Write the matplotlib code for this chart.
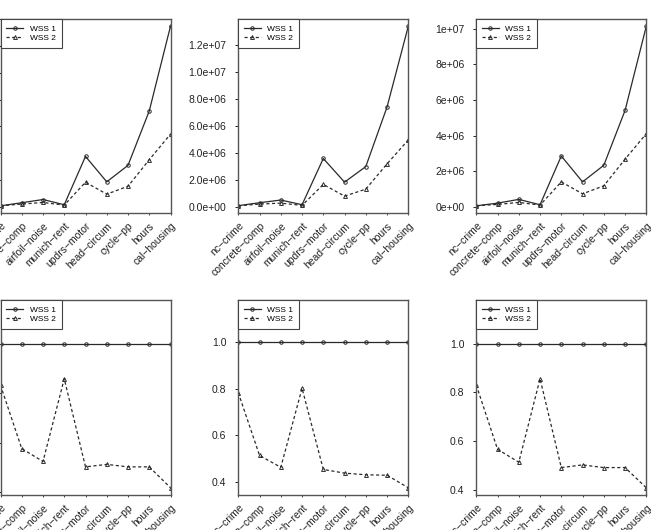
import numpy as np
import matplotlib
matplotlib.use('Agg')
import matplotlib.pyplot as plt
from matplotlib.ticker import FormatStrFormatter

plt.rcParams['font.family'] = ['Liberation Sans', 'DejaVu Sans']

# datasets on the x axis
datasets = ['nc−crime', 'concrete−comp', 'airfoil−noise', 'munich−rent', 'updrs−motor',
            'head−circum', 'cycle−pp', 'hours', 'cal−housing']

# top row: raw WSS values
top1_wss1 = [0.07e6, 0.30e6, 0.54e6, 0.15e6, 3.76e6, 1.86e6, 3.09e6, 7.15e6, 13.48e6]
top1_wss2 = [0.07e6, 0.20e6, 0.32e6, 0.12e6, 1.83e6, 0.94e6, 1.53e6, 3.51e6, 5.42e6]
top2_wss1 = [0.08e6, 0.30e6, 0.50e6, 0.15e6, 3.59e6, 1.83e6, 2.99e6, 7.42e6, 13.43e6]
top2_wss2 = [0.07e6, 0.20e6, 0.27e6, 0.10e6, 1.66e6, 0.79e6, 1.31e6, 3.19e6, 4.97e6]
top3_wss1 = [0.07e6, 0.22e6, 0.43e6, 0.13e6, 2.86e6, 1.41e6, 2.34e6, 5.41e6, 10.13e6]
top3_wss2 = [0.07e6, 0.15e6, 0.26e6, 0.11e6, 1.41e6, 0.74e6, 1.19e6, 2.68e6, 4.11e6]

# bottom row: normalised WSS
bot_wss1 = [1.0] * 9
bot1_wss2 = [0.833, 0.575, 0.523, 0.859, 0.501, 0.511, 0.501, 0.501, 0.416]
bot2_wss2 = [0.782, 0.512, 0.461, 0.801, 0.452, 0.436, 0.429, 0.427, 0.373]
bot3_wss2 = [0.830, 0.566, 0.513, 0.856, 0.491, 0.502, 0.491, 0.491, 0.408]

W, H = 651, 530
fig = plt.figure(figsize=(W / 100, H / 100), dpi=100)

lefts = [0.5, 238.3, 476.3]
aw = 170
line_col = '#2a2a2a'


def panel(left_px, top_px, h_px, s1, s2, fmt, norm):
    ax = fig.add_axes([left_px / W, 1 - (top_px + h_px) / H, aw / W, h_px / H])
    x = np.arange(1, len(datasets) + 1)
    ax.plot(x, s1, '-', color=line_col, lw=0.9, marker='o', ms=2.5,
            mfc='none', mew=0.7, label='WSS 1')
    ax.plot(x, s2, '--', color=line_col, lw=0.9, marker='^', ms=2.8,
            mfc='none', mew=0.7, dashes=(2.5, 2), label='WSS 2')
    ax.set_xlim(1, len(datasets))
    if norm:
        lo = min(s2)
        r = 1.15 - lo
        ax.set_ylim(lo - 0.04 * r, 1.15 + 0.04 * r)
        ax.set_yticks([0.4, 0.6, 0.8, 1.0])
    else:
        lo, hi = min(min(s1), min(s2)), max(max(s1), max(s2))
        r = hi - lo
        ax.set_ylim(lo - 0.04 * r, hi + 0.04 * r)
    ax.yaxis.set_major_formatter(FormatStrFormatter(fmt))
    ax.set_xticks(x)
    ax.set_xticklabels(datasets, rotation=45, ha='right', rotation_mode='anchor')
    ax.tick_params(axis='x', length=1.5, width=0.6, pad=4, labelsize=7.5,
                   colors='#222222')
    ax.tick_params(axis='y', length=2.5, width=0.7, pad=6, labelsize=7.5,
                   colors='#222222')
    for sp in ax.spines.values():
        sp.set_color('#555555')
        sp.set_linewidth(1.0)
    leg = ax.legend(loc='upper left', bbox_to_anchor=(0, 1), borderaxespad=0,
                    fancybox=False, framealpha=1, edgecolor='#444444',
                    fontsize=6.0, handlelength=2.0, handletextpad=0.8,
                    borderpad=0.7, labelspacing=0.2)
    leg.get_frame().set_linewidth(0.8)
    return ax


panel(lefts[0], 19, 194, top1_wss1, top1_wss2, '%.1e', False)
panel(lefts[1], 19, 194, top2_wss1, top2_wss2, '%.1e', False)
panel(lefts[2], 19, 194, top3_wss1, top3_wss2, '%.0e', False)
panel(lefts[0], 300, 195, bot_wss1, bot1_wss2, '%.1f', True)
panel(lefts[1], 300, 195, bot_wss1, bot2_wss2, '%.1f', True)
panel(lefts[2], 300, 195, bot_wss1, bot3_wss2, '%.1f', True)

fig.savefig('out.png', dpi=100)
